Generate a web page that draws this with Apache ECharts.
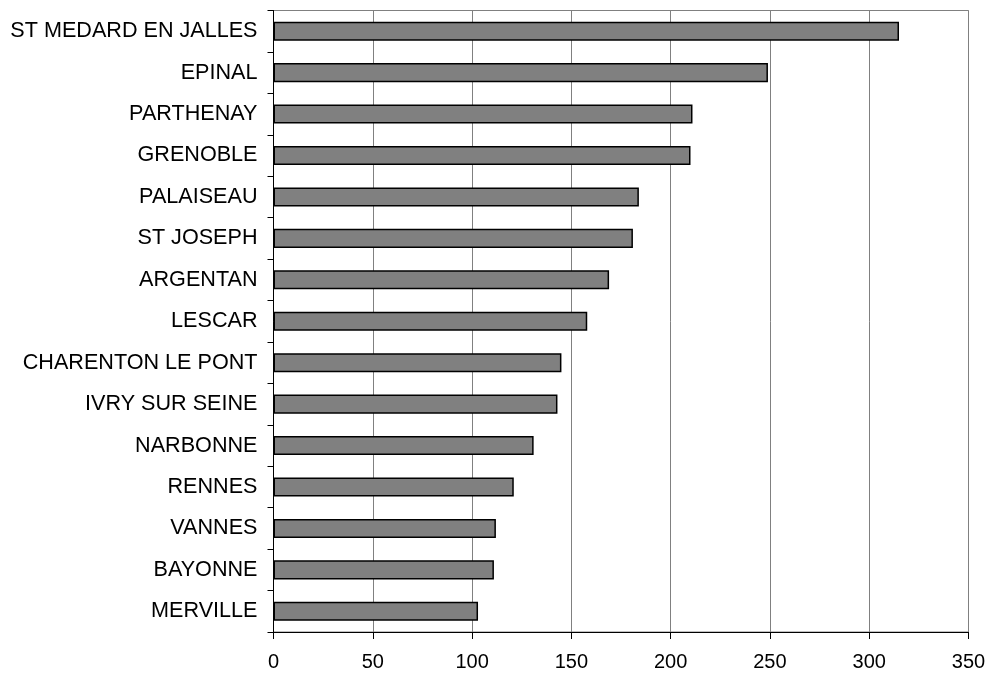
<!DOCTYPE html>
<html>
<head>
<meta charset="utf-8">
<script src="https://cdn.jsdelivr.net/npm/echarts@6/dist/echarts.min.js"></script>
<style>html,body{margin:0;padding:0;background:#fff}#c{width:989px;height:673px}</style>
</head>
<body>
<div id="c"></div>
<script>
const categories = ["ST MEDARD EN JALLES","EPINAL","PARTHENAY","GRENOBLE","PALAISEAU","ST JOSEPH","ARGENTAN","LESCAR","CHARENTON LE PONT","IVRY SUR SEINE","NARBONNE","RENNES","VANNES","BAYONNE","MERVILLE"];
const values = [315, 249, 211, 210, 184, 181, 169, 158, 145, 143, 131, 121, 112, 111, 103];
const xTicks = [0, 50, 100, 150, 200, 250, 300, 350];

const chart = echarts.init(document.getElementById('c'), null, {renderer: 'canvas'});
chart.setOption({
  animation: false,
  backgroundColor: '#fff',
  grid: {left: 273.5, right: 20.5, top: 10.5, bottom: 41, show: true, borderColor: '#808080', borderWidth: 1},
  xAxis: {
    type: 'value', min: xTicks[0], max: xTicks[xTicks.length-1], interval: 50,
    axisLine: {show: true, lineStyle: {color: '#000', width: 1}},
    axisTick: {show: true, length: 7, lineStyle: {color: '#000'}},
    axisLabel: {color: '#000', fontFamily: 'Liberation Sans, Arial', fontSize: 20, margin: 20},
    splitLine: {show: true, lineStyle: {color: '#808080', width: 1}}
  },
  yAxis: {
    type: 'category', data: categories, inverse: true,
    axisLine: {show: true, lineStyle: {color: '#000', width: 1}},
    axisTick: {show: true, length: 6, lineStyle: {color: '#000'}},
    axisLabel: {color: '#000', fontFamily: 'Liberation Sans, Arial', fontSize: 21.6, margin: 16},
    splitLine: {show: false}
  },
  series: [{
    type: 'bar', data: values, barWidth: '46%',
    itemStyle: {color: '#808080', borderColor: '#000', borderWidth: 1.5}
  }]
});
</script>
</body>
</html>
